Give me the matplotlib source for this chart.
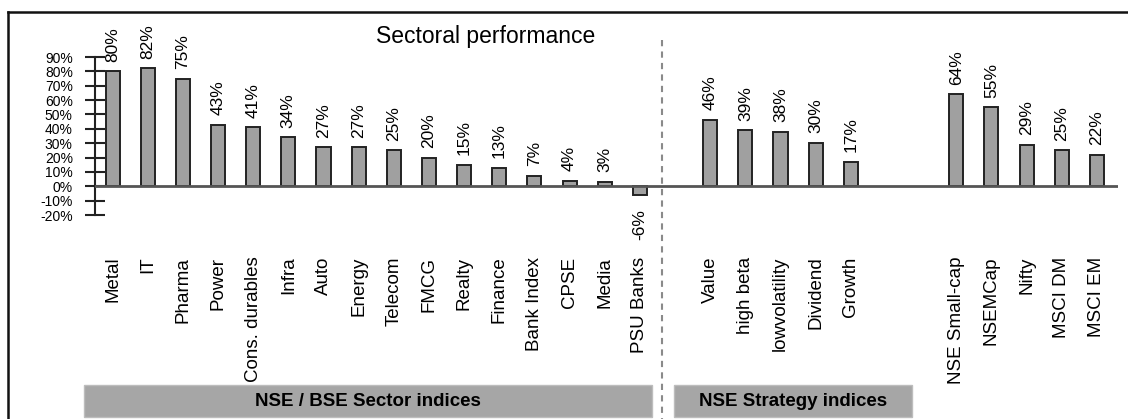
import matplotlib
matplotlib.use("Agg")
import matplotlib.pyplot as plt
from matplotlib.lines import Line2D
from matplotlib.patches import Rectangle
from matplotlib.ticker import FixedLocator, FuncFormatter

plt.rcParams['font.family'] = ['Liberation Sans', 'DejaVu Sans']

# ---- data ----
sector_names = ["Metal", "IT", "Pharma", "Power", "Cons. durables", "Infra", "Auto",
                "Energy", "Telecom", "FMCG", "Realty", "Finance", "Bank Index",
                "CPSE", "Media", "PSU Banks"]
sector_vals = [80, 82, 75, 43, 41, 34, 27, 27, 25, 20, 15, 13, 7, 4, 3, -6]

strategy_names = ["Value", "high beta", "lowvolatility", "Dividend", "Growth"]
strategy_vals = [46, 39, 38, 30, 17]

market_names = ["NSE Small-cap", "NSEMCap", "Nifty", "MSCI DM", "MSCI EM"]
market_vals = [64, 55, 29, 25, 22]

yticks = [-20, -10, 0, 10, 20, 30, 40, 50, 60, 70, 80, 90]
title = "Sectoral performance"
group_labels = ["NSE / BSE Sector indices", "NSE Strategy indices"]

# ---- layout ----
W, H = 1128, 419
fig = plt.figure(figsize=(W / 100, H / 100), dpi=100)

def fx(px):
    return px / W

def fy(py):
    return 1 - py / H

ax_left, ax_right, ax_top, ax_bot = 95, 1118, 57, 215
ax = fig.add_axes([fx(ax_left), fy(ax_bot), fx(ax_right - ax_left), (ax_bot - ax_top) / H])

starts = [0, 17, 24]
names = sector_names + strategy_names + market_names
vals = sector_vals + strategy_vals + market_vals
pos = ([starts[0] + i for i in range(len(sector_names))] +
       [starts[1] + i for i in range(len(strategy_names))] +
       [starts[2] + i for i in range(len(market_names))])

bars = ax.bar(pos, [v / 100 for v in vals], width=0.4, color='#a0a0a0',
              edgecolor='#222222', linewidth=1.4, zorder=3)

for x, v in zip(pos, vals):
    if v >= 0:
        ax.annotate(f"{v}%", (x, v / 100), xytext=(0, 7), textcoords='offset points',
                    rotation=90, ha='center', va='bottom', fontsize=12.5)
    else:
        ax.annotate(f"{v}%", (x, v / 100), xytext=(0, -10), textcoords='offset points',
                    rotation=90, ha='center', va='top', fontsize=12.5)

ax.set_xlim(-0.5, 28.6)
ax.set_ylim(-0.2, 0.9)
ax.axhline(0, color='#555555', lw=2, zorder=4)

for s in ['top', 'right', 'bottom']:
    ax.spines[s].set_visible(False)
ax.spines['left'].set_linewidth(1.5)
ax.spines['left'].set_color('#222222')

ax.yaxis.set_major_locator(FixedLocator([t / 100 for t in yticks]))
ax.yaxis.set_major_formatter(FuncFormatter(lambda v, p: f"{int(round(v * 100))}%"))
ax.tick_params(axis='y', direction='inout', length=14, width=1.5, color='#222222',
               labelsize=10, pad=9)

ax.set_xticks(pos)
ax.set_xticklabels(names, rotation=90, va='top', ha='center', fontsize=13.5)
ax.tick_params(axis='x', length=0, pad=30)
ax.patch.set_alpha(0)

# title
fig.text(fx(486), fy(36), title, ha='center', va='center', fontsize=16.5)

# frame (left and top borders)
fig.add_artist(Line2D([fx(8), fx(8)], [fy(12), 0], transform=fig.transFigure,
                      color='#111111', lw=1.8))
fig.add_artist(Line2D([fx(8), 1], [fy(12), fy(12)], transform=fig.transFigure,
                      color='#111111', lw=1.8))

# dashed separator
fig.add_artist(Line2D([fx(662), fx(662)], [fy(40), 0], transform=fig.transFigure,
                      color='#8a8a8a', lw=1.5, linestyle=(0, (3, 2.5))))

# group boxes
boxes = [(84, 652), (674, 912)]
for (x0, x1), lab in zip(boxes, group_labels):
    fig.add_artist(Rectangle((fx(x0), fy(417)), fx(x1 - x0), (417 - 385) / H,
                             transform=fig.transFigure, facecolor='#a6a6a6',
                             edgecolor='#bdbdbd', lw=1))
    fig.text(fx((x0 + x1) / 2), fy(401), lab, ha='center', va='center',
             fontsize=13.5, fontweight='bold')

fig.savefig("out.png", dpi=100)
